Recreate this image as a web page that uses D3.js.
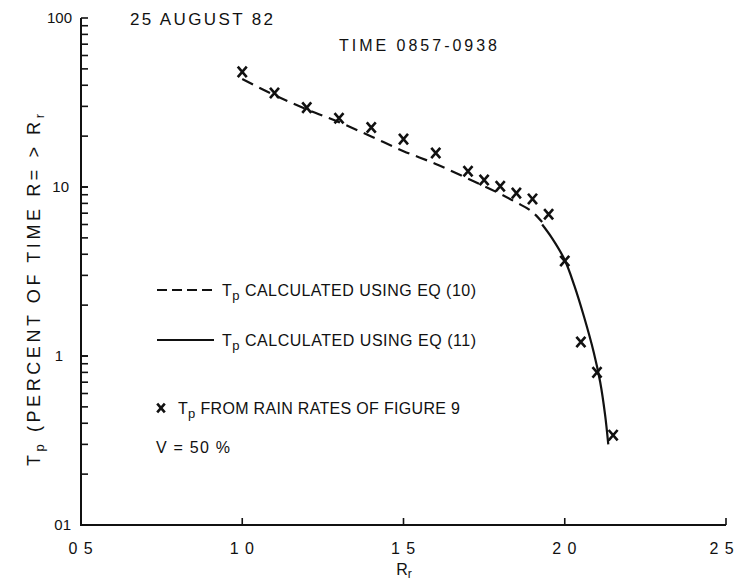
<!DOCTYPE html>
<html><head><meta charset="utf-8">
<script src="https://cdn.jsdelivr.net/npm/d3@7"></script>
<style>body{margin:0;background:#fff}svg{display:block}text{font-family:"Liberation Sans",Arial,sans-serif;fill:#111}</style>
</head><body>
<script>
// Data
const xTicks = [1.0, 1.5, 2.0, 2.5];
const xTickLabels = ["0 5", "1 0", "1 5", "2 0", "2 5"];
const xTickLabelValues = [0.5, 1.0, 1.5, 2.0, 2.5];
const yDecades = [100, 10, 1, 0.1];
const yTickLabels = ["100", "10", "1", "01"];
const measuredRr = [1.0, 1.1, 1.2, 1.3, 1.4, 1.5, 1.6, 1.7, 1.75, 1.8, 1.85, 1.9, 1.95, 2.0, 2.05, 2.1, 2.15];
const measuredTp = [48, 36, 29.5, 25.5, 22.5, 19.2, 15.9, 12.4, 11.0, 10.1, 9.2, 8.5, 6.9, 3.65, 1.21, 0.80, 0.34];
const eq10Rr = [1.0, 1.1, 1.2, 1.3, 1.4, 1.5, 1.6, 1.7, 1.8, 1.85, 1.9, 1.93];
const eq10Tp = [43.5, 35, 28.8, 24.2, 19.9, 16.3, 13.7, 11.2, 9.1, 8.1, 7.1, 6.2];
const eq11Rr = [1.93, 1.96, 2.0, 2.03, 2.06, 2.09, 2.11, 2.125, 2.135];
const eq11Tp = [6.0, 5.0, 3.7, 2.6, 1.7, 1.05, 0.7, 0.45, 0.3];

const W = 743, H = 583;
const svg = d3.select("body").append("svg").attr("width", W).attr("height", H);
const x = d3.scaleLinear().domain([0.5, 2.5]).range([81, 726]);
const y = d3.scaleLog().domain([0.1, 100]).range([525, 18]);

// Axes lines
svg.append("line").attr("x1", x(0.5)).attr("x2", x(0.5)).attr("y1", y(100)).attr("y2", y(0.1))
  .attr("stroke", "#111").attr("stroke-width", 2);
svg.append("line").attr("x1", x(0.5) - 1).attr("x2", x(2.5)).attr("y1", y(0.1)).attr("y2", y(0.1))
  .attr("stroke", "#111").attr("stroke-width", 2);

// Y ticks (inward)
const yMinor = [];
[0.1, 1, 10].forEach(d => { for (let k = 1; k <= 10; k++) yMinor.push(d * k); });
svg.selectAll(".yt").data(yMinor).enter().append("line")
  .attr("x1", x(0.5)).attr("x2", x(0.5) + 7)
  .attr("y1", d => y(d)).attr("y2", d => y(d))
  .attr("stroke", "#111").attr("stroke-width", 1.6);

// X ticks (upward)
svg.selectAll(".xt").data(xTicks).enter().append("line")
  .attr("x1", d => x(d)).attr("x2", d => x(d))
  .attr("y1", y(0.1)).attr("y2", y(0.1) - 7)
  .attr("stroke", "#111").attr("stroke-width", 1.6);

// Y tick labels
svg.selectAll(".yl").data(yDecades).enter().append("text")
  .attr("x", (d, i) => [72, 69, 63, 71][i])
  .attr("y", d => y(d) + 5)
  .attr("text-anchor", "end").attr("font-size", 15)
  .text((d, i) => yTickLabels[i]);

// X tick labels
svg.selectAll(".xl").data(xTickLabelValues).enter().append("text")
  .attr("x", d => x(d) - (d === 2.5 ? 4 : 0))
  .attr("y", 554)
  .attr("text-anchor", "middle").attr("font-size", 16).attr("letter-spacing", 1)
  .text((d, i) => xTickLabels[i]);

// X axis title
const xt = svg.append("text").attr("x", 404).attr("y", 575).attr("text-anchor", "middle").attr("font-size", 16);
xt.append("tspan").text("R");
xt.append("tspan").attr("font-size", 12).attr("dy", 3).text("r");

// Y axis title
const yt = svg.append("text").attr("transform", "translate(40,290) rotate(-90)")
  .attr("text-anchor", "middle").attr("font-size", 18)
  .attr("textLength", 352).attr("lengthAdjust", "spacing");
yt.append("tspan").text("T");
yt.append("tspan").attr("font-size", 13).attr("dy", 4).text("p");
yt.append("tspan").attr("dy", -4).text("  (PERCENT OF TIME R= > R");
yt.append("tspan").attr("font-size", 13).attr("dy", 4).text("r");

// Titles
svg.append("text").attr("x", 130).attr("y", 25).attr("font-size", 17)
  .attr("textLength", 143).attr("lengthAdjust", "spacing").text("25 AUGUST 82");
svg.append("text").attr("x", 339).attr("y", 51).attr("font-size", 16)
  .attr("textLength", 158).attr("lengthAdjust", "spacing").text("TIME 0857-0938");

// Curves
const line = d3.line().x(d => x(d[0])).y(d => y(d[1])).curve(d3.curveMonotoneX);
svg.append("path").attr("d", line(eq10Rr.map((r, i) => [r, eq10Tp[i]])))
  .attr("fill", "none").attr("stroke", "#111").attr("stroke-width", 2.2)
  .attr("stroke-dasharray", "12,7");
const line2 = d3.line().x(d => x(d[0])).y(d => y(d[1])).curve(d3.curveCatmullRom);
svg.append("path").attr("d", line2(eq11Rr.map((r, i) => [r, eq11Tp[i]])))
  .attr("fill", "none").attr("stroke", "#111").attr("stroke-width", 2.2);

// Markers
const cross = (cx, cy, s) => `M${cx - s},${cy - s * 1.15}L${cx + s},${cy + s * 1.15}M${cx + s},${cy - s * 1.15}L${cx - s},${cy + s * 1.15}`;
svg.selectAll(".m").data(measuredRr).enter().append("path")
  .attr("d", (d, i) => cross(x(d), y(measuredTp[i]), 4.5))
  .attr("fill", "none").attr("stroke", "#111").attr("stroke-width", 2.6);

// Legend
svg.append("line").attr("x1", 157).attr("x2", 214).attr("y1", 290).attr("y2", 290)
  .attr("stroke", "#111").attr("stroke-width", 2).attr("stroke-dasharray", "10,5");
svg.append("line").attr("x1", 157).attr("x2", 214).attr("y1", 340).attr("y2", 340)
  .attr("stroke", "#111").attr("stroke-width", 2);
svg.append("path").attr("d", cross(161, 408, 3.8)).attr("fill", "none").attr("stroke", "#111").attr("stroke-width", 2.6);

function legendText(xp, yp, rest, len) {
  const t = svg.append("text").attr("x", xp).attr("y", yp).attr("font-size", 16)
    .attr("textLength", len).attr("lengthAdjust", "spacing");
  t.append("tspan").text("T");
  t.append("tspan").attr("font-size", 13).attr("dy", 4).text("p");
  t.append("tspan").attr("dy", -4).text(" " + rest);
}
legendText(222, 296, "CALCULATED USING EQ (10)", 254);
legendText(222, 346, "CALCULATED USING EQ (11)", 254);
legendText(178, 414, "FROM RAIN RATES OF FIGURE 9", 282);
svg.append("text").attr("x", 156).attr("y", 453).attr("font-size", 16)
  .attr("textLength", 74).attr("lengthAdjust", "spacing").text("V = 50 %");
</script>
</body></html>
